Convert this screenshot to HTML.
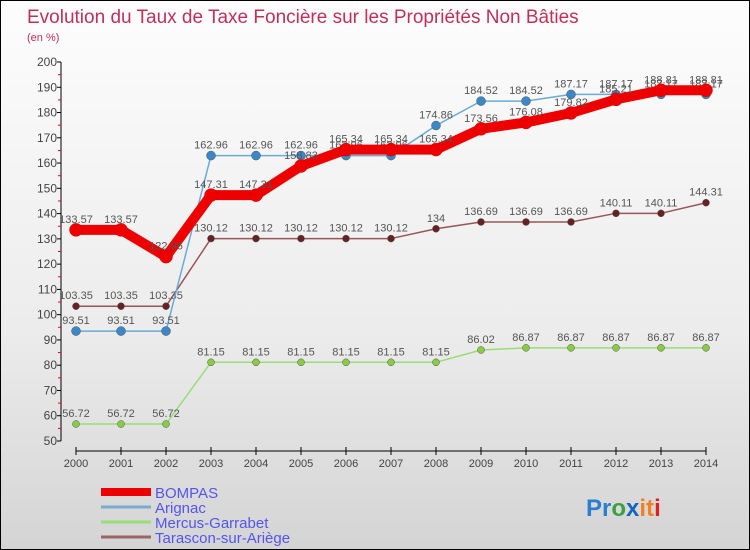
<!DOCTYPE html>
<html><head><meta charset="utf-8"><style>
body{margin:0}
#c{width:750px;height:550px;position:relative;box-sizing:border-box;border:1px solid #000;background:linear-gradient(#fdfdfd,#ececec 60%,#d4d4d4);font-family:"Liberation Sans",sans-serif;overflow:hidden}
svg text{font-family:"Liberation Sans",sans-serif}
</style></head><body>
<div id="c">
<svg id="s" width="750" height="550">
<text x="26" y="22" font-size="19" fill="#c0305a">Evolution du Taux de Taxe Foncière sur les Propriétés Non Bâties</text>
<text x="26" y="40" font-size="11" fill="#c0305a">(en %)</text>
<g id="axes"></g><g id="series"></g><g id="legend"></g>
<text x="585" y="515" font-size="24" font-weight="bold"><tspan fill="#2a7fd0">Pr</tspan><tspan fill="#3aa040">o</tspan><tspan fill="#1565c0">x</tspan><tspan fill="#f08020">it</tspan><tspan fill="#e02020">i</tspan></text>
</svg>
</div>
<script>
const years=[2000,2001,2002,2003,2004,2005,2006,2007,2008,2009,2010,2011,2012,2013,2014];
const yTicks=[50,60,70,80,90,100,110,120,130,140,150,160,170,180,190,200];
const seriesNames=["BOMPAS","Arignac","Mercus-Garrabet","Tarascon-sur-Ariège"];
const bompas=[133.57,133.57,122.96,147.31,147.31,158.83,165.34,165.34,165.34,173.56,176.08,179.82,185.21,188.81,188.81];
const arignac=[93.51,93.51,93.51,162.96,162.96,162.96,162.96,162.96,174.86,184.52,184.52,187.17,187.17,187.17,187.17];
const mercus=[56.72,56.72,56.72,81.15,81.15,81.15,81.15,81.15,81.15,86.02,86.87,86.87,86.87,86.87,86.87];
const tarascon=[103.35,103.35,103.35,130.12,130.12,130.12,130.12,130.12,134,136.69,136.69,136.69,140.11,140.11,144.31];
const NS="http://www.w3.org/2000/svg";
const X=i=>75+i*45;
const Y=v=>440-(v-50)*(379/150);
function mk(t,a,p){const e=document.createElementNS(NS,t);for(const k in a)e.setAttribute(k,a[k]);p.appendChild(e);return e;}
const ax=document.getElementById('axes');
let l=mk('line',{x1:60,y1:Y(200),x2:60,y2:Y(50),stroke:'#000'},ax);


yTicks.forEach((v,i)=>{
 mk('line',{x1:56,y1:Y(v),x2:60,y2:Y(v),stroke:'#000'},ax);
 if(i<yTicks.length-1)mk('line',{x1:57,y1:Y(v+5),x2:60,y2:Y(v+5),stroke:'#f00'},ax);
 const t=mk('text',{x:56,y:Y(v)+4,'font-size':12,'text-anchor':'end',fill:'#444'},ax);
 t.textContent=v;
 
 
});
l=mk('line',{x1:X(0),y1:450,x2:X(14),y2:450,stroke:'#000'},ax);


years.forEach((y,i)=>{
 mk('line',{x1:X(i),y1:446,x2:X(i),y2:454,stroke:'#000'},ax);
 const t=mk('text',{x:X(i),y:466,'font-size':11,'text-anchor':'middle',fill:'#444'},ax);
 t.textContent=y;
 
 
});
const sg=document.getElementById('series');
const defs=[[mercus,'#99dd77','#88cc44',1.5,3.5],[tarascon,'#995555','#662222',1.5,3.5],[arignac,'#6aaad8','#3a88c8',1.5,4.5],[bompas,'#ee0000','#ee0000',10,6.5]];
const nm=['mercus-garrabet','tarascon-sur-ariege','arignac','bompas'];
defs.forEach((d,k)=>{
 const pts=d[0].map((v,i)=>X(i)+','+Y(v)).join(' ');
 const pl=mk('polyline',{points:pts,fill:'none',stroke:d[1],'stroke-width':d[3],'stroke-linejoin':'round'},sg);
 
 
 d[0].forEach((v,i)=>{
  const c=mk('circle',{cx:X(i),cy:Y(v),r:d[4],fill:d[2],stroke:k==3?'#cc0000':'#555','stroke-width':0.5},sg);
  
  
  const t=mk('text',{x:X(i),y:Y(v)-7,'font-size':11,'text-anchor':'middle',fill:'#555'},sg);
  t.textContent=v;
  
  
 });
});
const lg=document.getElementById('legend');
const lc=['#ee0000','#7aaad0','#99dd77','#996666'];
seriesNames.forEach((n,i)=>{
 const y=491+i*15;
 const li=mk('line',{x1:100,y1:y,x2:150,y2:y,stroke:lc[i],'stroke-width':i==0?8:3},lg);
 
 
 const t=mk('text',{x:154,y:y+6,'font-size':15,fill:'#5555ee'},lg);
 t.textContent=n;
 
 
});
</script>
</body></html>
